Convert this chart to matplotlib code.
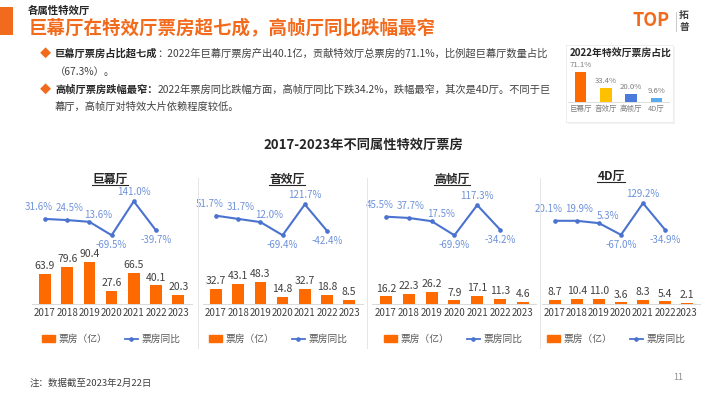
import matplotlib
matplotlib.use('Agg')
import matplotlib.pyplot as plt
from matplotlib.lines import Line2D
from matplotlib.patches import Rectangle, Patch
import numpy as np

plt.rcParams['font.family'] = ['Noto Sans CJK SC', 'DejaVu Sans']

# data
years = ['2017', '2018', '2019', '2020', '2021', '2022', '2023']
halls = ['巨幕厅', '音效厅', '高帧厅', '4D厅']

box_imax = [63.9, 79.6, 90.4, 27.6, 66.5, 40.1, 20.3]
box_sound = [32.7, 43.1, 48.3, 14.8, 32.7, 18.8, 8.5]
box_hfr = [16.2, 22.3, 26.2, 7.9, 17.1, 11.3, 4.6]
box_4d = [8.7, 10.4, 11.0, 3.6, 8.3, 5.4, 2.1]

yoy_imax = [31.6, 24.5, 13.6, -69.5, 141.0, -39.7]
yoy_sound = [51.7, 31.7, 12.0, -69.4, 121.7, -42.4]
yoy_hfr = [45.5, 37.7, 17.5, -69.9, 117.3, -34.2]
yoy_4d = [20.1, 19.9, 5.3, -67.0, 129.2, -34.9]

share_2022 = [71.1, 33.4, 20.0, 9.6]

# colors
orange = '#FF6A00'
title_orange = '#F26B1D'
blue = '#4A72CF'
label_blue = '#6E92DA'
dark = '#262626'
text_gray = '#404040'
share_colors = ['#FF6A00', '#FFC000', '#4A7BDC', '#5AAAF0']

W, H = 710, 399
fig = plt.figure(figsize=(W / 100, H / 100), dpi=100)


def fx(x):
    return x / W


def fy(y):
    return 1 - y / H


def px_axes(left, top, width, height):
    return fig.add_axes([left / W, 1 - (top + height) / H, width / W, height / H])


# header
fig.add_artist(Rectangle((0, fy(35)), fx(13), 28 / H, transform=fig.transFigure,
                         facecolor=title_orange, edgecolor='none'))
fig.text(fx(28), fy(11), '各属性特效厅', fontsize=7.5, weight='bold', va='center', color=dark)
fig.text(fx(29), fy(28), '巨幕厅在特效厅票房超七成，高帧厅同比跌幅最窄', fontsize=13.3,
         weight='bold', va='center', color=title_orange)

# logo
fig.text(fx(651), fy(20), 'TOP', fontsize=13, weight='bold', ha='center', va='center',
         color=title_orange)
fig.add_artist(Line2D([fx(676), fx(676)], [fy(12), fy(31)], transform=fig.transFigure,
                      color='#BFBFBF', lw=0.6))
fig.text(fx(684), fy(15), '拓', fontsize=7, weight='bold', ha='center', va='center', color='#404040')
fig.text(fx(684), fy(27), '普', fontsize=7, weight='bold', ha='center', va='center', color='#404040')

# bullet texts
bullets = [
    (53, '巨幕厅票房占比超七成', '：2022年巨幕厅票房产出40.1亿，贡献特效厅总票房的71.1%，比例超巨幕厅数量占比',
     72, '（67.3%）。'),
    (89, '高帧厅票房跌幅最窄：', '2022年票房同比跌幅方面，高帧厅同比下跌34.2%，跌幅最窄，其次是4D厅。不同于巨',
     106, '幕厅，高帧厅对特效大片依赖程度较低。'),
]
bold_texts = []
for y1, bold, rest, y2, line2 in bullets:
    fig.text(fx(45), fy(y1), '◆', fontsize=8, color=title_orange, ha='center', va='center')
    t = fig.text(fx(55), fy(y1 + 3.5), bold, fontsize=7.4, weight='bold', va='baseline', color=dark)
    bold_texts.append((t, rest, y1))
    fig.text(fx(55), fy(y2 + 3.5), line2, fontsize=7.4, va='baseline', color=text_gray)

# inset: 2022 share
fig.add_artist(Rectangle((fx(567.5), fy(123.5)), 107 / W, 77 / H, transform=fig.transFigure,
                         facecolor='#F2F2F2', edgecolor='none', zorder=-2))
fig.add_artist(Rectangle((fx(566), fy(122)), 107 / W, 77 / H, transform=fig.transFigure,
                         facecolor='white', edgecolor='#EBEBEB', lw=0.6, zorder=-1))
fig.text(fx(621), fy(53), '2022年特效厅票房占比', fontsize=7.1, weight='bold', ha='center',
         va='center', color=dark)
axi = px_axes(568, 60, 101, 42)
axi.set_zorder(2)
xi = np.arange(len(halls))
bi = axi.bar(xi, share_2022, width=0.45, color=share_colors)
axi.bar_label(bi, labels=[f'{v:.1f}%' for v in share_2022], padding=2, fontsize=5.6, color='#7F7F7F')
axi.set_xlim(-0.5, 3.5)
axi.set_ylim(0, 99.5)
axi.set_xticks(xi, halls)
axi.set_yticks([])
axi.tick_params(axis='x', length=0, pad=2, labelsize=5.4, labelcolor='#7F7F7F')
for s in ['top', 'right', 'left']:
    axi.spines[s].set_visible(False)
axi.spines['bottom'].set_color('#D9D9D9')
axi.spines['bottom'].set_linewidth(0.6)
axi.patch.set_visible(False)

# main chart title
fig.text(fx(363), fy(145), '2017-2023年不同属性特效厅票房', fontsize=9.5, weight='bold',
         ha='center', va='center', color=dark)

# panels
box_all = [box_imax, box_sound, box_hfr, box_4d]
yoy_all = [yoy_imax, yoy_sound, yoy_hfr, yoy_4d]
first_x = [45, 216, 386, 555]
step = [22.2, 22.2, 22.8, 22.0]
title_pos = [(110, 179), (287, 179), (452, 179), (611, 176)]
legend_x = [111, 278, 453, 616]
label_offsets = [(-6, 12), (2, 12), (9, 7), (0, -10), (0, 9), (0, -10)]

panel_titles = []
x = np.arange(len(years))
for i in range(4):
    left = first_x[i] - 0.6 * step[i]
    ax = px_axes(left, 190, 7.2 * step[i], 114)
    bars = ax.bar(x, box_all[i], width=0.52, color=orange)
    ax.bar_label(bars, labels=[f'{v:.1f}' for v in box_all[i]], padding=2, fontsize=7.5,
                 color=text_gray)
    ax.set_xlim(-0.6, 6.6)
    ax.set_ylim(0, 245)
    ax.set_xticks(x, years)
    ax.set_yticks([])
    ax.tick_params(axis='x', length=0, pad=3, labelsize=7, labelcolor=text_gray)
    for s in ['top', 'right', 'left']:
        ax.spines[s].set_visible(False)
    ax.spines['bottom'].set_color('#D9D9D9')
    ax.spines['bottom'].set_linewidth(0.7)
    ax.patch.set_visible(False)

    ax2 = ax.twinx()
    yoy = yoy_all[i]
    ax2.plot(x[:len(yoy)], yoy, color=blue, lw=1.5, marker='o', ms=2.3)
    ax2.set_ylim(-496, 211)
    ax2.axis('off')
    for j, v in enumerate(yoy):
        dx, dy = label_offsets[j]
        ax2.annotate(f'{v:.1f}%', (j, v), xytext=(dx, dy), textcoords='offset pixels',
                     ha='center', va='center', fontsize=7, color=label_blue)

    tx, ty = title_pos[i]
    t = fig.text(fx(tx), fy(ty), halls[i], fontsize=8.5, weight='bold', ha='center',
                 va='center', color=dark)
    panel_titles.append(t)

    handles = [Patch(color=orange),
               Line2D([], [], color=blue, lw=1.3, marker='o', ms=2.3)]
    ax.legend(handles, ['票房（亿）', '票房同比'], ncol=2, loc='center',
              bbox_to_anchor=(fx(legend_x[i]), fy(339)), bbox_transform=fig.transFigure,
              frameon=False, fontsize=7, handlelength=1.4, handleheight=0.6,
              handletextpad=0.3, columnspacing=1.8, labelcolor='#595959')

# separators between panels
for sx in [198, 367, 540]:
    fig.add_artist(Line2D([fx(sx), fx(sx)], [fy(178), fy(348)], transform=fig.transFigure,
                          color='#E6E6E6', lw=0.7))

# footer
fig.text(fx(30), fy(383), '注：数据截至2023年2月22日', fontsize=6.8, va='center', color=text_gray)
fig.text(fx(678), fy(378), '11', fontsize=6.5, va='center', ha='center', color='#8C8C8C')

# place remaining bullet text and underline titles
fig.canvas.draw()
renderer = fig.canvas.get_renderer()
inv = fig.transFigure.inverted()
for t, rest, y1 in bold_texts:
    bb = t.get_window_extent(renderer)
    x1 = inv.transform((bb.x1, bb.y0))[0]
    fig.text(x1, fy(y1 + 3.5), rest, fontsize=7.4, va='baseline', color=text_gray)
for t in panel_titles:
    bb = t.get_window_extent(renderer)
    (x0, y0), (x1, _) = inv.transform([(bb.x0, bb.y0 + 1), (bb.x1, bb.y0 + 1)])
    fig.add_artist(Line2D([x0, x1], [y0, y0], transform=fig.transFigure, color=dark, lw=0.8))

plt.savefig('out.png', dpi=100)
